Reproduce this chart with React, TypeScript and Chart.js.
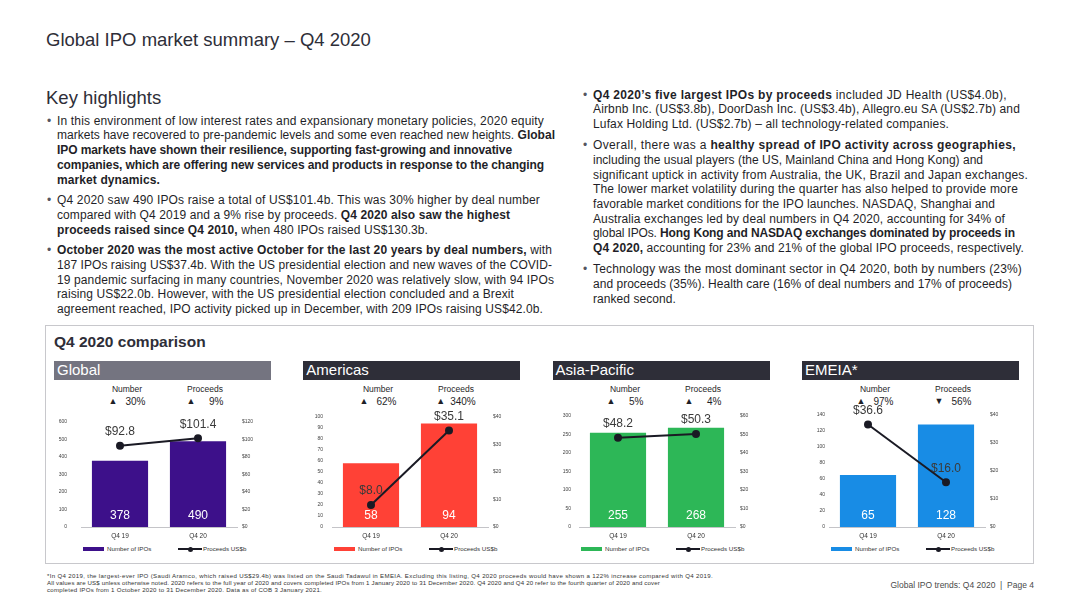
import React, { useEffect, useLayoutEffect, useRef } from "react";
import { Chart, registerables } from "chart.js";

Chart.register(...registerables);

// ---------- data ----------
const periods = ["Q4 19", "Q4 20"];
const regionNames = ["Global", "Americas", "Asia-Pacific", "EMEIA*"];
const globalNumbers = [378, 490];
const globalProceeds = [92.8, 101.4];
const americasNumbers = [58, 94];
const americasProceeds = [8.0, 35.1];
const apacNumbers = [255, 268];
const apacProceeds = [48.2, 50.3];
const emeiaNumbers = [65, 128];
const emeiaProceeds = [36.6, 16.0];
const numberChanges = ["30%", "62%", "5%", "97%"];
const numberUp = [true, true, true, true];
const proceedsChanges = ["9%", "340%", "4%", "56%"];
const proceedsUp = [true, true, true, false];
const numberAxisMax = [600, 100, 300, 140];
const numberAxisStep = [100, 10, 50, 20];
const proceedsAxisMax = [120, 40, 60, 40];
const proceedsAxisStep = [20, 10, 10, 10];
const legendLabels = ["Number of IPOs", "Proceeds US$b"];

const allNumbers = [globalNumbers, americasNumbers, apacNumbers, emeiaNumbers];
const allProceeds = [globalProceeds, americasProceeds, apacProceeds, emeiaProceeds];

// ---------- text ----------
type Seg = [string, boolean?];
type TextLine = { segs: Seg[]; end: number; bullet?: boolean };

const leftLines: TextLine[] = [
  { bullet: true, end: 544, segs: [["In this environment of low interest rates and expansionary monetary policies, 2020 equity"]] },
  { end: 555, segs: [["markets have recovered to pre-pandemic levels and some even reached new heights. "], ["Global", true]] },
  { end: 512, segs: [["IPO markets have shown their resilience, supporting fast-growing and innovative", true]] },
  { end: 544, segs: [["companies, which are offering new services and products in response to the changing", true]] },
  { end: 160, segs: [["market dynamics.", true]] },
  { bullet: true, end: 540, segs: [["Q4 2020 saw 490 IPOs raise a total of US$101.4b. This was 30% higher by deal number"]] },
  { end: 510, segs: [["compared with Q4 2019 and a 9% rise by proceeds. "], ["Q4 2020 also saw the highest", true]] },
  { end: 428, segs: [["proceeds raised since Q4 2010,", true], [" when 480 IPOs raised US$130.3b."]] },
  { bullet: true, end: 552, segs: [["October 2020 was the most active October for the last 20 years by deal numbers,", true], [" with"]] },
  { end: 552, segs: [["187 IPOs raising US$37.4b. With the US presidential election and new waves of the COVID-"]] },
  { end: 554, segs: [["19 pandemic surfacing in many countries, November 2020 was relatively slow, with 94 IPOs"]] },
  { end: 514, segs: [["raising US$22.0b. However, with the US presidential election concluded and a Brexit"]] },
  { end: 543, segs: [["agreement reached, IPO activity picked up in December, with 209 IPOs raising US$42.0b."]] },
];

const rightLines: TextLine[] = [
  { bullet: true, end: 1007, segs: [["Q4 2020’s five largest IPOs by proceeds", true], [" included JD Health (US$4.0b),"]] },
  { end: 1020, segs: [["Airbnb Inc. (US$3.8b), DoorDash Inc. (US$3.4b), Allegro.eu SA (US$2.7b) and"]] },
  { end: 949, segs: [["Lufax Holding Ltd. (US$2.7b) – all technology-related companies."]] },
  { bullet: true, end: 1016, segs: [["Overall, there was a "], ["healthy spread of IPO activity across geographies,", true]] },
  { end: 983, segs: [["including the usual players (the US, Mainland China and Hong Kong) and"]] },
  { end: 1028, segs: [["significant uptick in activity from Australia, the UK, Brazil and Japan exchanges."]] },
  { end: 1018, segs: [["The lower market volatility during the quarter has also helped to provide more"]] },
  { end: 995, segs: [["favorable market conditions for the IPO launches. NASDAQ, Shanghai and"]] },
  { end: 1005, segs: [["Australia exchanges led by deal numbers in Q4 2020, accounting for 34% of"]] },
  { end: 1015, segs: [["global IPOs. "], ["Hong Kong and NASDAQ exchanges dominated by proceeds in", true]] },
  { end: 1024, segs: [["Q4 2020,", true], [" accounting for 23% and 21% of the global IPO proceeds, respectively."]] },
  { bullet: true, end: 1022, segs: [["Technology was the most dominant sector in Q4 2020, both by numbers (23%)"]] },
  { end: 1012, segs: [["and proceeds (35%). Health care (16% of deal numbers and 17% of proceeds)"]] },
  { end: 676, segs: [["ranked second."]] },
];

const footLines: TextLine[] = [
  { end: 713, segs: [["*In Q4 2019, the largest-ever IPO (Saudi Aramco, which raised US$29.4b) was listed on the Saudi Tadawul in EMEIA. Excluding this listing, Q4 2020 proceeds would have shown a 122% increase compared with Q4 2019."]] },
  { end: 660, segs: [["All values are US$ unless otherwise noted. 2020 refers to the full year of 2020 and covers completed IPOs from 1 January 2020 to 31 December 2020. Q4 2020 and Q4 20 refer to the fourth quarter of 2020 and cover"]] },
  { end: 322, segs: [["completed IPOs from 1 October 2020 to 31 December 2020. Data as of COB 3 January 2021."]] },
];

// ---------- styles ----------
const FONT = "'Liberation Sans', Arial, Helvetica, sans-serif";
const barColors = ["#3d108a", "#ff4136", "#2db757", "#188ce5"];
const headerColors = ["#747480", "#2e2e38", "#2e2e38", "#2e2e38"];
const plotLefts = [81, 332, 579, 829];
const leftPads = [14, 9, 8, 4];
const panelLefts = [54, 303.3, 552.6, 802];
const TEXT = "#1f1f28";

function FitLine({
  x,
  cy,
  end,
  size,
  lh,
  color,
  children,
}: {
  x: number;
  cy: number;
  end: number;
  size: number;
  lh: number;
  color: string;
  children: React.ReactNode;
}) {
  const ref = useRef<HTMLSpanElement>(null);
  useLayoutEffect(() => {
    const el = ref.current;
    if (!el) return;
    el.style.letterSpacing = "0px";
    const w = el.getBoundingClientRect().width;
    const n = (el.textContent || "").length;
    const target = end - x;
    if (n > 1) {
      let ls = (target - w) / n;
      ls = Math.max(-0.6, Math.min(1.2, ls));
      el.style.letterSpacing = ls + "px";
    }
  }, [x, end]);
  return (
    <span
      ref={ref}
      style={{
        position: "absolute",
        left: x,
        top: cy - lh / 2,
        fontSize: size,
        lineHeight: lh + "px",
        whiteSpace: "nowrap",
        color,
      }}
    >
      {children}
    </span>
  );
}

function TextColumn({
  lines,
  x,
  y0,
  lh,
  gap,
}: {
  lines: TextLine[];
  x: number;
  y0: number;
  lh: number;
  gap: number;
}) {
  let y = y0 - lh;
  return (
    <>
      {lines.map((ln, i) => {
        y += lh + (ln.bullet && i > 0 ? gap : 0);
        const cy = y;
        return (
          <React.Fragment key={i}>
            {ln.bullet && (
              <span style={{ position: "absolute", left: x - 10, top: cy - lh / 2, fontSize: 12, lineHeight: lh + "px", color: "#55555f" }}>
                •
              </span>
            )}
            <FitLine x={x} cy={cy} end={ln.end} size={12} lh={lh} color={TEXT}>
              {ln.segs.map((s, j) =>
                s[1] ? (
                  <b key={j} style={{ fontWeight: 700 }}>
                    {s[0]}
                  </b>
                ) : (
                  <span key={j}>{s[0]}</span>
                )
              )}
            </FitLine>
          </React.Fragment>
        );
      })}
    </>
  );
}

const valueLabels = {
  id: "valueLabels",
  afterDatasetsDraw(chart: any) {
    const ctx = chart.ctx;
    chart.data.datasets.forEach((ds: any, di: number) => {
      const meta = chart.getDatasetMeta(di);
      meta.data.forEach((el: any, i: number) => {
        const v = ds.data[i] as number;
        ctx.save();
        ctx.textAlign = "center";
        ctx.textBaseline = "middle";
        ctx.font = `12px ${FONT}`;
        if (meta.type === "bar") {
          ctx.fillStyle = "#ffffff";
          ctx.fillText(String(v), el.x, el.base - 11);
        } else {
          ctx.fillStyle = "#3a3a3a";
          ctx.fillText("$" + v.toFixed(1), el.x, el.y - 14);
        }
        ctx.restore();
      });
    });
  },
};

function RegionChart({ idx }: { idx: number }) {
  const ref = useRef<HTMLCanvasElement>(null);
  useEffect(() => {
    const chart = new Chart(ref.current as HTMLCanvasElement, {
      type: "bar",
      data: {
        labels: periods,
        datasets: [
          {
            type: "line",
            label: legendLabels[1],
            data: allProceeds[idx],
            yAxisID: "y2",
            borderColor: "#1a1a24",
            backgroundColor: "#1a1a24",
            pointBackgroundColor: "#1a1a24",
            pointBorderColor: "#1a1a24",
            borderWidth: 2,
            pointRadius: 3,
            order: 0,
          } as any,
          {
            type: "bar",
            label: legendLabels[0],
            data: allNumbers[idx],
            yAxisID: "y",
            backgroundColor: barColors[idx],
            barPercentage: 0.72,
            categoryPercentage: 1,
            order: 1,
          } as any,
        ],
      },
      options: {
        responsive: false,
        maintainAspectRatio: false,
        animation: false,
        layout: { padding: { top: 10, left: 0, right: 0, bottom: 0 } },
        plugins: { legend: { display: false }, tooltip: { enabled: false } },
        scales: {
          x: {
            grid: { display: false, drawTicks: false },
            border: { display: true, color: "#c4c4c8", width: 1 },
            ticks: { font: { size: 6.5, family: FONT }, color: "#333", padding: 5 },
            afterFit: (s: any) => {
              s.height = 18;
            },
          },
          y: {
            position: "left",
            min: 0,
            max: numberAxisMax[idx],
            ticks: {
              stepSize: numberAxisStep[idx],
              font: { size: 5, family: FONT },
              color: "#444",
              padding: leftPads[idx],
            },
            grid: { display: false, drawTicks: false },
            border: { display: false },
            afterFit: (s: any) => {
              s.width = 28;
            },
          },
          y2: {
            position: "right",
            min: 0,
            max: proceedsAxisMax[idx],
            ticks: {
              stepSize: proceedsAxisStep[idx],
              font: { size: 5, family: FONT },
              color: "#444",
              padding: 5,
              callback: (v: any) => "$" + v,
            },
            grid: { display: false, drawTicks: false },
            border: { display: false },
            afterFit: (s: any) => {
              s.width = 34;
            },
          },
        },
      } as any,
      plugins: [valueLabels],
    });
    return () => chart.destroy();
  }, [idx]);
  return (
    <canvas
      ref={ref}
      width={218}
      height={140}
      style={{ position: "absolute", left: plotLefts[idx] - 28, top: 405, width: 218, height: 140 }}
    />
  );
}

function Panel({ idx }: { idx: number }) {
  const pl = plotLefts[idx];
  const changeBlock = (label: string, change: string, up: boolean, cx: number) => (
    <div
      style={{
        position: "absolute",
        left: cx - 30,
        top: 383.5,
        width: 60,
        textAlign: "center",
        color: TEXT,
      }}
    >
      <div style={{ fontSize: 8.5, lineHeight: "11px" }}>{label}</div>
      <div
        style={{
          display: "flex",
          justifyContent: "space-between",
          gap: 5,
          minWidth: 37,
          margin: "0 auto",
          width: "fit-content",
          fontSize: 10,
          lineHeight: "13px",
        }}
      >
        <span style={{ fontSize: 9 }}>{up ? "▲" : "▼"}</span>
        <span>{change}</span>
      </div>
    </div>
  );
  return (
    <>
      <div
        style={{
          position: "absolute",
          left: panelLefts[idx],
          top: 361,
          width: 217,
          height: 18.5,
          background: headerColors[idx],
          color: "#ffffff",
          fontSize: 15,
          lineHeight: "18.5px",
          paddingLeft: 3,
          boxSizing: "border-box",
        }}
      >
        {regionNames[idx]}
      </div>
      {changeBlock("Number", numberChanges[idx], numberUp[idx], pl + 46)}
      {changeBlock("Proceeds", proceedsChanges[idx], proceedsUp[idx], pl + 124)}
      <RegionChart idx={idx} />
      {/* legend */}
      <div style={{ position: "absolute", left: pl + 2, top: 547, width: 21, height: 4, background: barColors[idx] }} />
      <div style={{ position: "absolute", left: pl + 26, top: 545, fontSize: 6.2, lineHeight: "8px", color: "#333", whiteSpace: "nowrap" }}>
        {legendLabels[0]}
      </div>
      <div style={{ position: "absolute", left: pl + 97, top: 548, width: 24, height: 2, background: "#1a1a24" }} />
      <div style={{ position: "absolute", left: pl + 107, top: 546.5, width: 5, height: 5, borderRadius: 3, background: "#1a1a24" }} />
      <div style={{ position: "absolute", left: pl + 122, top: 545, fontSize: 6.2, lineHeight: "8px", color: "#333", whiteSpace: "nowrap" }}>
        {legendLabels[1]}
      </div>
    </>
  );
}

export default function App() {
  return (
    <div
      style={{
        position: "absolute",
        left: 0,
        top: 0,
        width: 1080,
        height: 608,
        background: "#ffffff",
        fontFamily: FONT,
        color: TEXT,
        overflow: "hidden",
      }}
    >
      <div style={{ position: "absolute", left: 46, top: 29, fontSize: 18.5, lineHeight: "22px", color: "#2e2e38", whiteSpace: "nowrap" }}>
        Global IPO market summary – Q4 2020
      </div>

      <div style={{ position: "absolute", left: 46, top: 87, fontSize: 18.5, lineHeight: "22px", color: "#2e2e38", whiteSpace: "nowrap" }}>
        Key highlights
      </div>

      <TextColumn lines={leftLines} x={57} y0={121} lh={14.9} gap={5} />
      <TextColumn lines={rightLines} x={593} y0={95} lh={14.7} gap={6.5} />

      {/* comparison box */}
      <div
        style={{
          position: "absolute",
          left: 45,
          top: 324.5,
          width: 989,
          height: 239,
          border: "1px solid #c8c8cc",
          boxSizing: "border-box",
        }}
      />
      <div style={{ position: "absolute", left: 54, top: 333, fontSize: 15.5, lineHeight: "18px", fontWeight: 700, color: "#2e2e38", whiteSpace: "nowrap" }}>
        Q4 2020 comparison
      </div>

      {[0, 1, 2, 3].map((i) => (
        <Panel key={i} idx={i} />
      ))}

      {/* footnote */}
      {footLines.map((ln, i) => (
        <FitLine key={i} x={47} cy={575.2 + i * 7.3} end={ln.end} size={6.1} lh={7.3} color="#333">
          {ln.segs.map((s, j) => (
            <span key={j}>{s[0]}</span>
          ))}
        </FitLine>
      ))}
      <div style={{ position: "absolute", right: 1080 - 1034, top: 579.5, fontSize: 8.5, lineHeight: "11px", color: "#4a4a4a", whiteSpace: "nowrap" }}>
        Global IPO trends: Q4 2020&nbsp; | &nbsp;Page 4
      </div>
    </div>
  );
}
